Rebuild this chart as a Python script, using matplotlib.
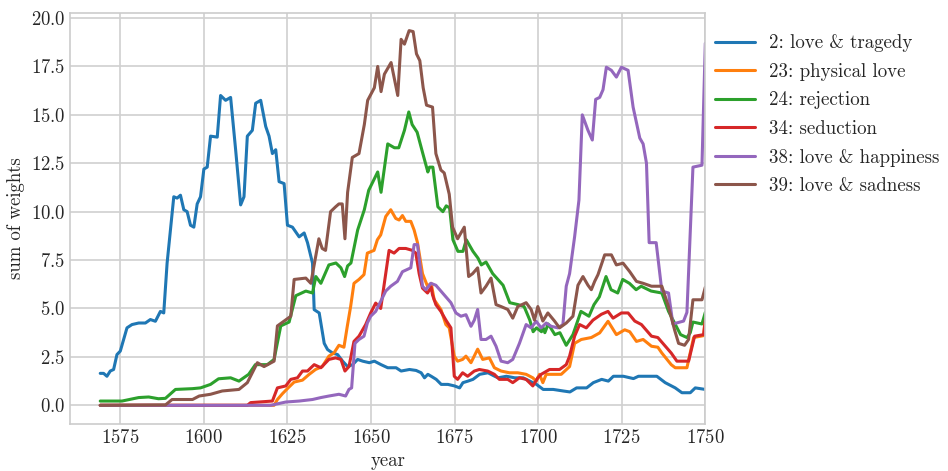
import matplotlib
matplotlib.use("Agg")
import matplotlib.pyplot as plt

plt.style.use("seaborn-v0_8-whitegrid")
plt.rcParams["font.family"] = ["cmr10", "DejaVu Serif"]
plt.rcParams["axes.formatter.use_mathtext"] = True
plt.rcParams["mathtext.fontset"] = "cm"

# digitized topic weights, one (years, values) pair per topic
tragedy_years = [1569, 1570, 1571, 1572, 1573, 1574, 1575, 1577, 1578.5, 1580.5, 1582.5, 1584, 1585.5, 1587, 1588,
                 1589, 1591, 1592, 1593, 1594, 1595, 1596, 1597, 1598, 1599, 1600, 1601, 1602, 1604, 1605, 1606.5,
                 1608, 1609.5, 1611, 1612, 1613, 1614.5, 1615.5, 1617, 1618.5, 1619.5, 1620.5, 1621.5, 1622.5, 1624,
                 1625, 1626.5, 1628.5, 1630, 1631, 1632.5, 1633, 1634.5, 1636, 1637, 1638.5, 1640, 1641.5, 1643,
                 1644.5, 1646, 1647.5, 1649.5, 1651, 1653, 1655, 1657.5, 1659, 1661.5, 1663.5, 1665, 1666, 1667,
                 1668, 1669.5, 1671, 1673, 1675, 1676.5, 1677.5, 1679, 1680.5, 1682.5, 1685, 1687, 1688, 1690.5,
                 1693, 1695.5, 1697.5, 1699.5, 1701.5, 1704.5, 1707.5, 1709.5, 1711.5, 1714.5, 1716.5, 1719, 1721,
                 1722.5, 1725.5, 1728.5, 1730, 1735.5, 1738, 1741, 1743, 1745.5, 1747, 1750]
tragedy = [1.65, 1.65, 1.5, 1.77, 1.85, 2.62, 2.8, 4.0, 4.17, 4.25, 4.25, 4.43, 4.34, 4.85, 4.77,
           7.34, 10.77, 10.7, 10.85, 10.1, 10.0, 9.3, 9.2, 10.4, 10.77, 12.2, 12.3, 13.9, 13.85, 16.0, 15.75,
           15.9, 13.2, 10.35, 10.77, 13.9, 14.2, 15.6, 15.75, 14.4, 13.9, 13.0, 13.2, 11.55, 11.45,
           9.3, 9.2, 8.7, 8.9, 8.4, 7.34, 4.94, 4.77, 3.2, 2.88, 2.7, 2.62, 2.28, 2.0,
           2.1, 2.37, 2.28, 2.2, 2.28, 2.1, 1.94, 1.94, 1.77, 1.85, 1.8, 1.68, 1.42, 1.6,
           1.5, 1.34, 1.08, 1.08, 1.0, 0.9, 1.17, 1.25, 1.34, 1.6, 1.68, 1.5, 1.42, 1.5,
           1.42, 1.42, 1.25, 1.08, 0.82, 0.82, 0.74, 0.69, 0.9, 0.9, 1.17, 1.34, 1.25,
           1.5, 1.5, 1.38, 1.5, 1.5, 1.17, 0.9, 0.65, 0.65, 0.9, 0.82]

physical_years = [1569, 1621, 1622, 1623.5, 1625.5, 1627, 1629.5, 1631.5, 1633.4, 1635.4, 1637.4, 1638.9, 1640.4,
                  1641.9, 1642.9, 1643.9, 1644.9, 1646.4, 1647.9, 1648.9, 1650.9, 1651.9, 1652.9, 1654.4, 1655.9,
                  1657.4, 1658.4, 1659.4, 1660.4, 1661.9, 1662.9, 1663.9, 1665.4, 1666.9, 1668, 1668.9, 1670.9,
                  1672.4, 1673.4, 1674.9, 1675.9, 1677.4, 1678.4, 1679.9, 1681.9, 1683.4, 1685.4, 1686.9, 1688.9,
                  1691.4, 1693.9, 1696.4, 1698.4, 1699.4, 1700.4, 1701.4, 1702.4, 1706.9, 1709.4, 1710.9, 1712.9,
                  1715.9, 1718.4, 1720.9, 1723.4, 1725.9, 1727.4, 1729.4, 1731.4, 1733.9, 1735.8, 1737, 1739.8,
                  1741, 1744.5, 1746.5, 1749.5, 1750]
physical = [0, 0, 0.3, 0.6, 0.95, 1.2, 1.3, 1.6, 1.85, 2.0, 2.54, 2.7, 3.1,
            3.0, 4.08, 5.1, 6.3, 6.5, 6.75, 7.86, 8.0, 8.55, 8.8, 9.75, 10.1,
            9.65, 9.57, 9.8, 9.5, 9.5, 9.05, 8.4, 6.8, 6.15, 6.3, 5.45, 4.95,
            4.17, 4.0, 2.54, 2.28, 2.37, 2.54, 2.2, 2.9, 2.37, 2.45, 1.94, 1.77,
            1.68, 1.68, 1.6, 1.42, 1.25, 1.6, 1.17, 1.6, 1.6, 2.0, 3.2, 3.4,
            3.5, 3.74, 4.34, 3.65, 3.9, 3.8, 3.3, 3.4, 3.05, 3.0, 2.7, 2.1,
            1.94, 1.94, 3.5, 3.6, 4.6]

rejection_years = [1569, 1575.5, 1580.5, 1583.5, 1586.4, 1588.5, 1591.5, 1596.6, 1599, 1602, 1604.4, 1608, 1610.5,
                   1613.4, 1615.4, 1619, 1621, 1623, 1625.5, 1627.5, 1630.5, 1632.5, 1633.5, 1635, 1637.4, 1639.5,
                   1641, 1642.1, 1643, 1644, 1646, 1648, 1649.3, 1652, 1653, 1655, 1657, 1658.3, 1660, 1661.3,
                   1662.3, 1663.8, 1665.5, 1667, 1667.5, 1668.5, 1670, 1671.5, 1672.5, 1673.5, 1674.5, 1676,
                   1677.5, 1678.5, 1680.5, 1682, 1683, 1684.4, 1686.4, 1689.5, 1691.5, 1694, 1695.8, 1697.5, 1698.5,
                   1699.5, 1701, 1701.5, 1702, 1703, 1705, 1706.5, 1708.4, 1710.4, 1712.8, 1715.2, 1716.7, 1718.3,
                   1720.3, 1721.8, 1723.8, 1725.3, 1727.3, 1729.3, 1730.8, 1733.8, 1737, 1739, 1742.6, 1744.5,
                   1745.5, 1746.3, 1749, 1750]
rejection = [0.22, 0.22, 0.4, 0.43, 0.34, 0.36, 0.82, 0.86, 0.9, 1.08, 1.37, 1.42, 1.25,
             1.6, 2.1, 2.1, 2.37, 4.1, 4.3, 5.66, 5.9, 5.8, 6.65, 6.3, 7.25, 7.35,
             7.1, 6.65, 7.2, 7.35, 9.05, 10.1, 11.1, 12.05, 11.0, 13.5, 13.3, 13.3, 14.2, 15.15,
             14.5, 14.1, 13.0, 12.05, 12.3, 12.3, 10.25, 10.0, 10.3, 10.2, 8.55, 7.95,
             7.95, 8.55, 7.95, 7.6, 7.25, 7.4, 6.8, 6.2, 5.3, 5.2, 5.1, 4.4, 3.8,
             4.0, 3.8, 4.0, 3.75, 4.2, 3.65, 3.75, 3.1, 3.65, 4.85, 4.6, 5.2, 5.6,
             6.65, 5.97, 5.8, 6.5, 6.3, 5.97, 6.15, 5.9, 5.8, 4.85, 3.65, 3.5,
             3.75, 4.3, 4.2, 4.8]

seduction_years = [1569, 1613, 1614, 1620.5, 1622, 1624.5, 1626, 1628, 1629.5, 1631, 1633, 1635, 1637.4, 1639.4,
                   1641, 1642.2, 1643.4, 1644.9, 1646.4, 1648.4, 1649.9, 1651.4, 1652.9, 1654.4, 1655.4, 1656.9,
                   1658.4, 1660.4, 1662.4, 1663.4, 1664.4, 1665.4, 1666.9, 1668, 1668.4, 1669.4, 1670.9, 1672.4,
                   1673.9, 1674.9, 1675.9, 1677.4, 1678.9, 1680.9, 1682.4, 1684.9, 1686.9, 1688.4, 1690.9, 1692.4,
                   1694.4, 1696.4, 1698.4, 1699.9, 1700.9, 1703.4, 1706.4, 1708.4, 1709.4, 1710.9, 1712.4, 1714.4,
                   1716.4, 1718.9, 1720.9, 1722.4, 1724.9, 1726.9, 1728.9, 1730.9, 1733.9, 1735.8, 1739.8, 1741.5,
                   1745, 1746.8, 1749.5, 1750]
seduction = [0, 0, 0.14, 0.22, 0.9, 1.0, 1.34, 1.42, 1.77, 1.77, 2.1, 1.94, 2.37, 2.45,
             2.37, 1.77, 2.0, 3.3, 3.57, 4.17, 4.77, 5.28, 5.0, 6.8, 8.0, 7.86,
             8.1, 8.1, 8.0, 7.86, 6.8, 6.05, 5.8, 6.1, 5.7, 5.2, 4.85, 4.4,
             4.0, 1.5, 1.34, 1.68, 1.5, 1.77, 1.85, 1.77, 1.6, 1.34, 1.34, 1.17,
             1.42, 1.34, 1.0, 1.42, 1.6, 1.85, 1.85, 2.1, 2.54, 3.57, 4.17, 4.0,
             4.4, 4.7, 4.85, 4.5, 4.77, 4.77, 4.35, 4.17, 3.57, 3.5, 2.7, 2.28,
             2.28, 3.57, 3.65, 4.4]

happiness_years = [1569, 1620, 1624.5, 1628.5, 1632.5, 1635, 1637.4, 1640.4, 1642.4, 1643.4, 1644.2, 1645.2, 1646.4,
                   1647.9, 1648.9, 1649.9, 1651.4, 1652.9, 1654.4, 1655.9, 1657.9, 1659.4, 1661.9, 1662.9, 1663.9,
                   1665.4, 1666.4, 1667.9, 1669.4, 1670.9, 1672.4, 1673.9, 1675.4, 1676.9, 1678.4, 1679.9, 1680.9,
                   1681.9, 1682.9, 1684.4, 1685.9, 1687.4, 1688.9, 1690.9, 1692.4, 1694.4, 1696.4, 1697.9, 1699.4,
                   1700.9, 1702.4, 1703.9, 1705.9, 1707.4, 1708.4, 1709.4, 1710.9, 1712.2, 1713.2, 1714.9, 1716.2,
                   1717.2, 1718.4, 1719.4, 1720.4, 1721.9, 1723.4, 1724.9, 1726.9, 1728.4, 1730.4, 1731.4, 1732.4,
                   1733.2, 1735.3, 1737, 1739, 1740.3, 1743.5, 1744.5, 1746.3, 1749, 1750]
happiness = [0, 0, 0.17, 0.22, 0.3, 0.4, 0.48, 0.57, 0.48, 0.82, 0.9, 3.2, 3.4,
             3.57, 4.25, 4.6, 4.85, 5.37, 5.9, 6.15, 6.4, 6.9, 7.1, 8.3, 8.3,
             6.15, 5.97, 6.3, 6.2, 5.9, 5.6, 5.3, 4.77, 4.6, 4.68, 4.08, 4.4,
             4.95, 3.4, 3.4, 3.57, 3.05, 2.28, 2.2, 2.37, 3.2, 4.17, 4.0, 4.34,
             4.0, 4.25, 4.08, 4.0, 4.17, 6.15, 6.8, 8.7, 10.6, 15.0, 14.2, 13.7,
             15.8, 15.9, 16.3, 17.46, 17.3, 16.95, 17.46, 17.3, 15.4, 13.8, 13.5, 12.5,
             8.4, 8.4, 5.9, 5.8, 4.2, 4.35, 4.8, 12.3, 12.4, 18.7]

sadness_years = [1569, 1588.5, 1590.5, 1596.6, 1598.6, 1602, 1605.5, 1610.5, 1613, 1616, 1618, 1621, 1622, 1624,
                 1626, 1627, 1630.5, 1632, 1634.4, 1635.4, 1636.4, 1637.9, 1639.4, 1640.4, 1641.4, 1642.2, 1643,
                 1644.4, 1646.4, 1648, 1649, 1651, 1652, 1653, 1654, 1656, 1658, 1659, 1660, 1661.4, 1662.6,
                 1663.6, 1664.6, 1665.6, 1666.6, 1668.4, 1669.4, 1670.9, 1671.9, 1673.4, 1674.4, 1675.9, 1676.9,
                 1677.9, 1679.2, 1680.4, 1681.9, 1682.9, 1684.4, 1685.9, 1687.4, 1688.9, 1690.9, 1692.4, 1693.9,
                 1696.4, 1697.9, 1698.9, 1699.9, 1700.9, 1701.4, 1702.9, 1704.9, 1706.4, 1708.4, 1710.4, 1711.9,
                 1713.4, 1714.9, 1715.9, 1716.9, 1717.9, 1719.9, 1721.9, 1723.4, 1725.4, 1727.4, 1729.4, 1731.4,
                 1733.9, 1737, 1738.8, 1740.8, 1742, 1743.8, 1745, 1746.3, 1749, 1750]
sadness = [0, 0.02, 0.3, 0.3, 0.48, 0.57, 0.74, 0.82, 1.17, 2.2, 2.0, 2.28, 4.1, 4.35,
           4.6, 6.5, 6.57, 6.3, 8.6, 8.1, 8.0, 10.0, 10.25, 10.4, 10.4, 8.6, 11.0,
           12.8, 13.0, 14.5, 15.75, 16.4, 17.5, 16.2, 17.1, 17.7, 16.0, 18.9, 18.65, 19.35, 19.3,
           18.15, 17.8, 16.4, 15.5, 15.4, 13.0, 12.15, 12.0, 10.9, 9.2, 8.6, 8.9,
           9.2, 6.65, 6.8, 7.1, 5.8, 6.15, 6.57, 5.2, 5.1, 4.95, 4.5, 5.1,
           5.3, 4.95, 4.4, 5.1, 4.6, 4.35, 4.77, 4.35, 4.0, 4.25, 4.6, 6.2,
           6.65, 6.2, 5.97, 6.4, 6.75, 7.77, 7.77, 7.25, 7.34, 6.9, 6.4, 6.3,
           6.15, 6.15, 5.2, 3.9, 3.2, 3.1, 3.4, 5.45, 5.45, 6.1]

series = [
    ("2: love & tragedy", tragedy_years, tragedy),
    ("23: physical love", physical_years, physical),
    ("24: rejection", rejection_years, rejection),
    ("34: seduction", seduction_years, seduction),
    ("38: love & happiness", happiness_years, happiness),
    ("39: love & sadness", sadness_years, sadness),
]

fig = plt.figure(figsize=(9.48, 4.71), dpi=100)
ax = fig.add_axes([0.074, 0.1, 0.67, 0.872])

for label, yrs, vals in series:
    ax.plot(yrs, vals, lw=2.2, label=label)

ax.set_xlim(1560, 1750)
ax.set_ylim(-0.96, 20.25)
ax.set_yticks([0, 2.5, 5, 7.5, 10, 12.5, 15, 17.5, 20])
ax.set_xticks([1575, 1600, 1625, 1650, 1675, 1700, 1725, 1750])
ax.tick_params(labelsize=13.5)
ax.set_xlabel("year", fontsize=13.5)
ax.set_ylabel("sum of weights", fontsize=13.5)
ax.grid(color="#d0d0d0", lw=1.2)
for s in ax.spines.values():
    s.set_visible(True)
    s.set_color("#cccccc")
    s.set_linewidth(1.2)

ax.legend(loc="upper left", bbox_to_anchor=(0.989, 0.99), frameon=False, fontsize=13.6,
          handlelength=2.1, handletextpad=0.74, labelspacing=0.56)

plt.savefig("out.png", dpi=100)
